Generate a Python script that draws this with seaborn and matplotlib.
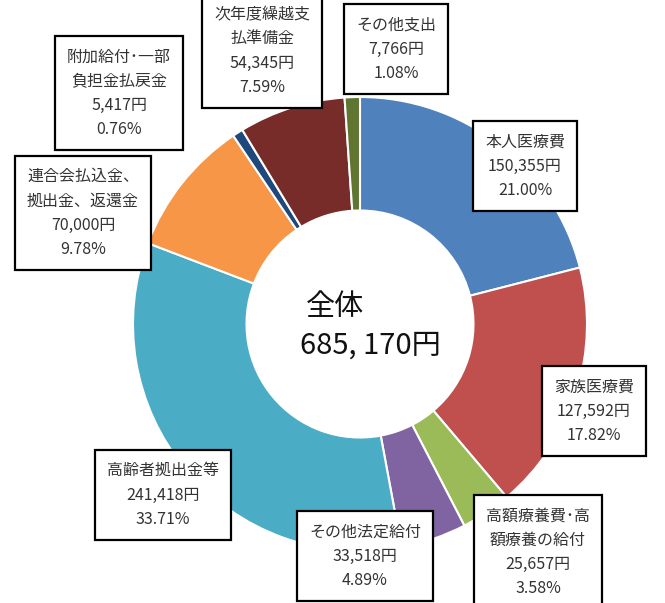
import matplotlib
matplotlib.use('Agg')
import matplotlib.pyplot as plt
import seaborn as sns

# slice data, clockwise from 12 o'clock
categories = ['本人医療費', '家族医療費', '高額療養費･高\n額療養の給付', 'その他法定給付',
              '高齢者拠出金等', '連合会払込金、\n拠出金、返還金', '附加給付･一部\n負担金払戻金',
              '次年度繰越支\n払準備金', 'その他支出']
amounts = [150355, 127592, 25657, 33518, 241418, 70000, 5417, 54345, 7766]
percents = ['21.00%', '17.82%', '3.58%', '4.89%', '33.71%', '9.78%', '0.76%', '7.59%', '1.08%']
colors = ['#4F81BD', '#C0504D', '#9BBB59', '#8064A2', '#4BACC6',
          '#F79646', '#1F497D', '#772C2A', '#5F7530']

# label box centres in pixel space (x, y from top)
label_pos = [(525, 166), (594, 411), (538, 552), (365, 556), (163, 495),
             (83, 213), (119, 93), (262, 51), (396, 49)]

sns.set_theme(style='white')
plt.rcParams['font.family'] = ['Noto Sans CJK JP', 'DejaVu Sans']

W, H = 665, 603
fig = plt.figure(figsize=(W / 100, H / 100), dpi=100)
ax = fig.add_axes([0, 0, 1, 1])

cx, cy, r = 360, 603 - 324, 227
ax.pie(amounts, colors=colors, startangle=90, counterclock=False,
       center=(cx, cy), radius=r,
       wedgeprops=dict(width=r * 0.5, edgecolor='white', linewidth=1.5))

ax.set_xlim(0, W)
ax.set_ylim(0, H)
ax.set_aspect('equal')
ax.axis('off')

# centre text
ax.text(cx - 25, cy + 17, '全体', fontsize=21, ha='center', va='center', color='#111111')
ax.text(cx + 10, cy - 22, '685, 170円', fontsize=21, ha='center', va='center', color='#111111')

for cat, amt, pct, (px, py) in zip(categories, amounts, percents, label_pos):
    txt = f'{cat}\n{amt:,}円\n{pct}'
    ax.text(px, H - py, txt, fontsize=11.5, ha='center', va='center',
            color='#333333', linespacing=1.55,
            bbox=dict(boxstyle='square,pad=0.75', facecolor='white',
                      edgecolor='black', linewidth=1.6))

fig.savefig('out.png', dpi=100)
